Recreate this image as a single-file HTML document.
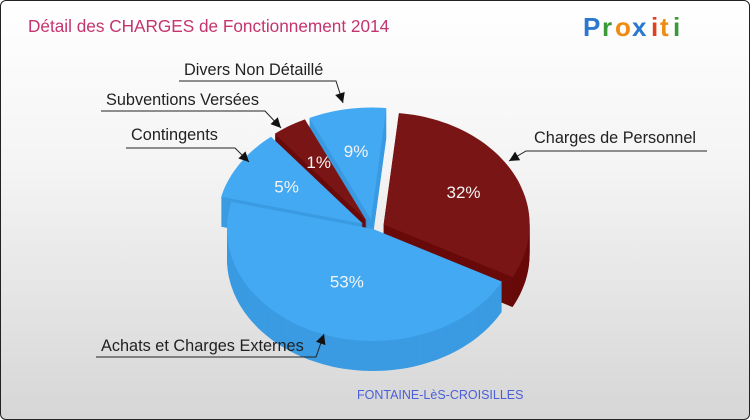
<!DOCTYPE html>
<html><head><meta charset="utf-8"><style>
html,body{margin:0;padding:0;}
body{width:750px;height:420px;overflow:hidden;font-family:"Liberation Sans",sans-serif;}
#wrap{position:absolute;left:0;top:0;width:748px;height:418px;border:1px solid #222;border-radius:6px;background:linear-gradient(#ffffff,#f4f4f4 40%,#d6d6d6);overflow:hidden;}
</style></head><body>
<div id="wrap">
<svg id="chart" width="750" height="420" style="position:absolute;left:0;top:0">
<text x="27" y="31" font-size="17.2" fill="#c4346e">Détail des CHARGES de Fonctionnement 2014</text>
<g font-size="26" font-weight="bold" font-family="'Liberation Sans',sans-serif">
<text x="582" y="35" fill="#2a78d0">P</text><text x="601" y="35" fill="#3a9a3a">r</text><text x="614" y="35" fill="#f08a10">o</text><text x="631" y="35" fill="#2a78d0">x</text><text x="650" y="35" fill="#e04020">i</text><text x="659" y="35" fill="#f08a10">t</text><text x="672" y="35" fill="#3a9a3a">i</text>
</g>
<g id="slices"></g>
<g id="labels"></g>
<text x="356" y="398" font-size="12.5" fill="#4a5fd8">FONTAINE-LèS-CROISILLES</text>
</svg>
</div>
<script>
const categories = ["Charges de Personnel","Achats et Charges Externes","Contingents","Subventions Versées","Divers Non Détaillé"];
const values = [32,53,5,1,9];
const pctLabels = ["32%","53%","5%","1%","9%"];
const explode = [12,0,12,12,12];
const topColors = ["#7a1515","#42a9f2","#42a9f2","#7a1515","#42a9f2"];
const sideColors = ["#690a0a","#3a9be2","#3a9be2","#690a0a","#3a9be2"];

const NS="http://www.w3.org/2000/svg";
const cx=372, cy=228, rx=146, ry=112, depth=30, startDeg=6;
// perspective warp: cumulative percent -> visual angle (degrees)
const warpIn=[0,32,85,90,91,100];
const warpOut=[0,112,278,315,329,360];
function warp(p){for(let k=1;k<warpIn.length;k++){if(p<=warpIn[k]){const f=(p-warpIn[k-1])/(warpIn[k]-warpIn[k-1]);return warpOut[k-1]+f*(warpOut[k]-warpOut[k-1]);}}return 360;}
function pt(a,r,ox,oy,dy){const t=a*Math.PI/180;return [ox+rx*r*Math.sin(t), oy-ry*r*Math.cos(t)+(dy||0)];}
function mk(tag,attrs){const e=document.createElementNS(NS,tag);for(const k in attrs)e.setAttribute(k,attrs[k]);return e;}
const total=values.reduce((a,b)=>a+b,0);
const g=document.getElementById('slices');
let cum=0;
const sl=[];
values.forEach((v,i)=>{const a0=startDeg+warp(cum/total*100);cum+=v;const a1=startDeg+warp(cum/total*100);const m=(a0+a1)/2;
  const d=explode[i];const t=m*Math.PI/180;
  sl.push({i,a0,a1,m,ox:cx+d*Math.sin(t),oy:cy-d*Math.cos(t)*0.8});});
function arcPath(s,dy){let p=`M${s.ox.toFixed(1)},${(s.oy+dy).toFixed(1)}`;const n=Math.max(2,Math.ceil((s.a1-s.a0)/2));
  for(let k=0;k<=n;k++){const a=s.a0+(s.a1-s.a0)*k/n;const q=pt(a,1,s.ox,s.oy,dy);p+=`L${q[0].toFixed(1)},${q[1].toFixed(1)}`;}
  return p+'Z';}
const order=sl.slice().sort((a,b)=>(-Math.cos(a.m*Math.PI/180))-(-Math.cos(b.m*Math.PI/180)));
order.forEach(s=>{
  const grp=mk('g',{});
  
  
  for(let dy=depth;dy>0;dy-=1){const side=mk('path',{d:arcPath(s,dy),fill:sideColors[s.i]});grp.appendChild(side);}
  const top=mk('path',{d:arcPath(s,0),fill:topColors[s.i]});
  grp.appendChild(top);
  g.appendChild(grp);
});
const lg=document.getElementById('labels');
sl.forEach(s=>{const r=s.i===1?0.5:0.62;const q=pt(s.m,r,s.ox,s.oy,0);
  const t=mk('text',{x:q[0],y:q[1]+6,'font-size':17,fill:'#f4f4f4','text-anchor':'middle'});
  
  
  t.textContent=pctLabels[s.i];lg.appendChild(t);});
const callouts=[
 {i:0,tx:533,ty:142,lx1:525,lx2:706,ly:150,ax:508,ay:160},
 {i:4,tx:183,ty:74,lx1:178,lx2:335,ly:80,ax:342,ay:102},
 {i:3,tx:105,ty:104,lx1:100,lx2:264,ly:110,ax:280,ay:127},
 {i:2,tx:130,ty:139,lx1:125,lx2:234,ly:147,ax:248,ay:161},
 {i:1,tx:100,ty:350,lx1:95,lx2:315,ly:356,ax:323,ay:333}];
callouts.forEach(c=>{
  const t=mk('text',{x:c.tx,y:c.ty,'font-size':16.3,fill:'#222'});
  
  
  t.textContent=categories[c.i];lg.appendChild(t);
  const ex=c.i===0?c.lx1:c.lx2;
  const l=mk('polyline',{points:`${c.i===0?c.lx2:c.lx1},${c.ly} ${ex},${c.ly} ${c.ax},${c.ay}`,fill:'none',stroke:'#222','stroke-width':1});
  
  
  lg.appendChild(l);
  const ang=Math.atan2(c.ay-c.ly,c.ax-ex);const L=10,W=5;
  const bx=c.ax-L*Math.cos(ang),by=c.ay-L*Math.sin(ang);
  const p=mk('polygon',{points:`${c.ax},${c.ay} ${bx-W*Math.sin(ang)},${by+W*Math.cos(ang)} ${bx+W*Math.sin(ang)},${by-W*Math.cos(ang)}`,fill:'#111'});
  
  
  lg.appendChild(p);
});
</script>
</body></html>
